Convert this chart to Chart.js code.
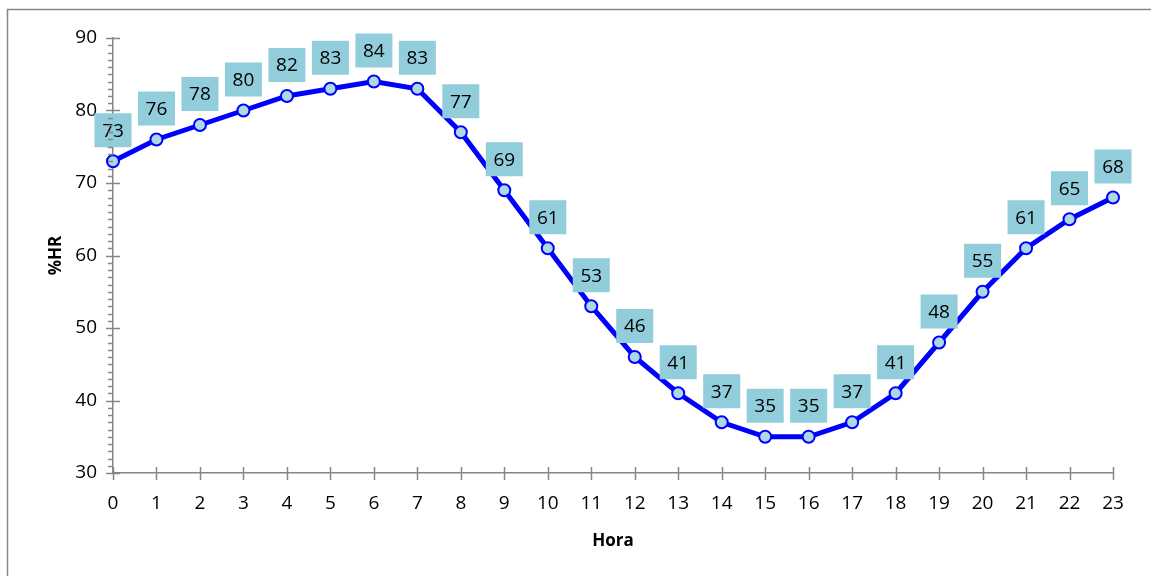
<!DOCTYPE html>
<html>
<head>
<meta charset="utf-8">
<script src="https://cdn.jsdelivr.net/npm/chart.js@4"></script>
<style>
  html, body { margin: 0; padding: 0; background: #fff; }
  #wrap { width: 1151px; height: 576px; position: relative; }
</style>
</head>
<body>
<div id="wrap"><canvas id="humedadChart"></canvas></div>
<script>
let horas = ['0','1','2','3','4','5','6','7','8','9','10','11','12','13','14','15','16','17','18','19','20','21','22','23'];
let humedad = [73,76,78,80,82,83,84,83,77,69,61,53,46,41,37,35,35,37,41,48,55,61,65,68];
let yMin = 30;
let yMax = 90;
let yPaso = 10;

let fuente = "'Open Sans', 'Liberation Sans', sans-serif";
let gris = '#868686';

// marco gris del grafico
let marcoPlugin = {
    id: 'marco',
    beforeDraw(chart) {
        let ctx = chart.ctx;
        ctx.save();
        ctx.strokeStyle = gris;
        ctx.lineWidth = 1.5;
        ctx.strokeRect(7.5, 9.5, 2000, 2000);
        ctx.restore();
    }
};

// marcas de los ejes (mayores cruzan el eje, menores solo por fuera)
let marcasPlugin = {
    id: 'marcas',
    afterDraw(chart) {
        let ctx = chart.ctx;
        let x = chart.scales.x;
        let y = chart.scales.y;
        let area = chart.chartArea;
        ctx.save();
        ctx.strokeStyle = gris;
        ctx.lineWidth = 1.5;
        ctx.beginPath();
        for (let v = yMin; v <= yMax; v++) {
            let py = Math.round(y.getPixelForValue(v)) + 0.5;
            if (v % yPaso === 0) {
                ctx.moveTo(area.left - 7, py);
                ctx.lineTo(area.left + 7, py);
            } else {
                ctx.moveTo(area.left - 5, py);
                ctx.lineTo(area.left, py);
            }
        }
        for (let i = 0; i < horas.length; i++) {
            let px = Math.round(x.getPixelForValue(i)) + 0.5;
            ctx.moveTo(px, area.bottom - 6);
            ctx.lineTo(px, area.bottom + 7);
        }
        ctx.stroke();
        ctx.restore();
    }
};

// etiquetas en cajas celestes encima de cada punto
let etiquetasPlugin = {
    id: 'etiquetas',
    afterDatasetsDraw(chart) {
        let ctx = chart.ctx;
        let meta = chart.getDatasetMeta(0);
        ctx.save();
        ctx.font = '19px ' + fuente;
        ctx.textAlign = 'center';
        ctx.textBaseline = 'middle';
        meta.data.forEach((p, i) => {
            let w = 37, h = 34;
            let bx = p.x - w / 2;
            let by = p.y - 14 - h;
            ctx.fillStyle = '#92CDDC';
            ctx.fillRect(bx, by, w, h);
            ctx.fillStyle = '#000';
            ctx.fillText(String(humedad[i]), p.x, by + h / 2 + 1);
        });
        ctx.restore();
    }
};

let ctx = document.getElementById('humedadChart');
new Chart(ctx, {
    type: 'line',
    data: {
        labels: horas,
        datasets: [{
            label: '%HR',
            data: humedad,
            borderColor: '#0000FF',
            borderWidth: 5,
            pointRadius: 6,
            pointBorderWidth: 2,
            pointBackgroundColor: '#ADD8E6',
            pointBorderColor: '#0000FF',
            tension: 0
        }]
    },
    options: {
        responsive: true,
        maintainAspectRatio: false,
        animation: false,
        layout: { padding: { left: 0, right: 38, top: 38, bottom: 0 } },
        plugins: {
            legend: { display: false },
            tooltip: { enabled: false }
        },
        scales: {
            x: {
                offset: false,
                grid: { display: false, drawTicks: false },
                border: { display: true, color: gris, width: 1.5 },
                ticks: { color: '#000', padding: 19, maxRotation: 0, font: { family: fuente, size: 19 } },
                title: { display: true, text: 'Hora', color: '#000', padding: { top: 25, bottom: 25 }, font: { family: fuente, size: 17, weight: 'bold' } },
                afterFit(scale) { scale.height = 103; }
            },
            y: {
                min: yMin,
                max: yMax,
                grid: { display: false, drawTicks: false },
                border: { display: true, color: gris, width: 1.5 },
                ticks: { stepSize: yPaso, color: '#000', padding: 16, font: { family: fuente, size: 19 } },
                title: { display: true, text: '%HR', color: '#000', padding: { top: 46, bottom: 46 }, font: { family: fuente, size: 17, weight: 'bold' } },
                afterFit(scale) { scale.width = 113; }
            }
        }
    },
    plugins: [marcoPlugin, marcasPlugin, etiquetasPlugin]
});
</script>
</body>
</html>
